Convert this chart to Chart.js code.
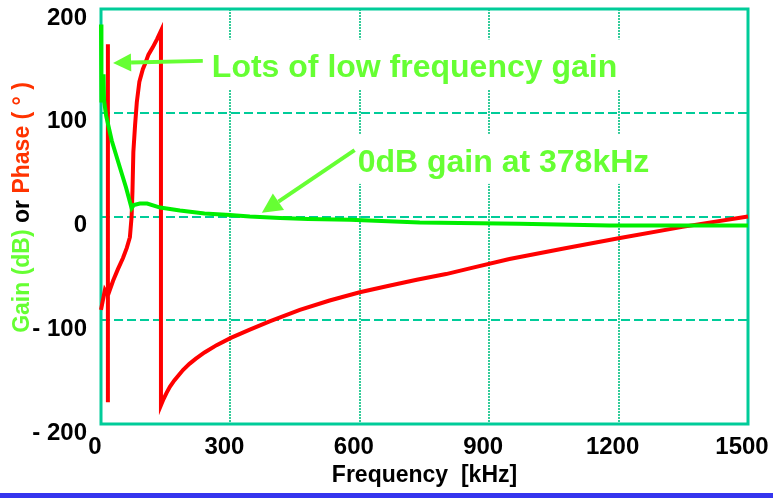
<!DOCTYPE html>
<html>
<head>
<meta charset="utf-8">
<script src="https://cdn.jsdelivr.net/npm/chart.js@4.4.1/dist/chart.umd.min.js"></script>
<style>
  body { margin: 0; background: #fff; }
  #wrap { position: relative; width: 773px; height: 493px; }
  #bar { width: 773px; height: 5px; background: #3535ee; }
</style>
</head>
<body>
<div id="wrap"><canvas id="stage"></canvas></div>
<div id="bar"></div>
<script>
// gain curve (kHz, dB)
var freqGain = [0, 0, 2, 6, 7, 12, 25, 44, 58, 71, 76, 90, 107, 137, 183, 240, 299, 345, 415, 480, 577, 739, 970, 1179, 1500];
var gainDb   = [185, 111, 110, 137, 112, 97, 73, 47, 28, 8, 11, 12.5, 12.5, 8.6, 5.8, 3, 1.5, 0, -1.5, -2.3, -3.2, -5.7, -7, -8.6, -8.6];

// phase curve (kHz, deg)
var freqPhase = [0, 9, 16, 16, 16, 16, 28, 39, 51, 60, 67, 71, 73, 75, 79, 83, 89, 97, 102, 110, 120, 130, 139,
                 139, 145, 152, 160, 170, 180, 190, 205, 220, 240, 268, 301, 345, 391, 461, 530, 600, 665, 732, 800, 855, 947, 1070, 1200, 1348, 1500];
var phaseDeg  = [-90, -71, -76, 166, -179, -76, -62, -51, -40, -30, -20, 0, 25, 62, 88, 110, 130, 142, 147, 156, 163, 171, 179,
                 -182, -176, -170, -164, -158, -153, -148, -142, -137, -131, -124, -117, -109, -101, -90, -81, -73, -67, -61, -55.5, -50, -41, -31, -21, -10, 0];

var xTicks = [0, 300, 600, 900, 1200, 1500];
var yTicks = [-200, -100, 0, 100, 200];

var TEAL = '#00cc99';
var LABEL_GREEN = '#66ff33';
var FONT = '"Liberation Sans", Arial, sans-serif';

function toPoints(xs, ys) {
  return xs.map(function (x, i) { return {x: x, y: ys[i]}; });
}

function drawArrow(ctx, x1, y1, x2, y2, headLen, headHalf) {
  var ang = Math.atan2(y2 - y1, x2 - x1);
  var bx = x2 - headLen * Math.cos(ang);
  var by = y2 - headLen * Math.sin(ang);
  ctx.beginPath();
  ctx.moveTo(x1, y1);
  ctx.lineTo(bx, by);
  ctx.stroke();
  ctx.beginPath();
  ctx.moveTo(x2, y2);
  ctx.lineTo(bx + headHalf * Math.sin(ang), by - headHalf * Math.cos(ang));
  ctx.lineTo(bx - headHalf * Math.sin(ang), by + headHalf * Math.cos(ang));
  ctx.closePath();
  ctx.fill();
}

// frame, text boxes, arrows and the coloured y title
var decorPlugin = {
  id: 'decor',
  beforeDatasetsDraw: function (chart) {
    var ctx = chart.ctx, a = chart.chartArea;
    var xs = chart.scales.x, ys = chart.scales.y;
    ctx.save();
    ctx.font = 'bold 32px ' + FONT;
    // white boxes behind the notes
    var notes = [[257, 134, 'Lots of low frequency gain'], [595, 43, '0dB gain at 378kHz']];
    ctx.fillStyle = '#fff';
    notes.forEach(function (n) {
      var px = xs.getPixelForValue(n[0]), py = ys.getPixelForValue(n[1]);
      var w = ctx.measureText(n[2]).width;
      ctx.fillRect(px - 6, py - 38, w + 12, 50);
    });
    ctx.strokeStyle = TEAL;
    ctx.lineWidth = 3;
    ctx.strokeRect(a.left, a.top, a.right - a.left, a.bottom - a.top);
    ctx.restore();
  },
  afterDatasetsDraw: function (chart) {
    var ctx = chart.ctx, a = chart.chartArea;
    var xs = chart.scales.x, ys = chart.scales.y;
    ctx.save();
    ctx.fillStyle = LABEL_GREEN;
    ctx.strokeStyle = LABEL_GREEN;
    ctx.lineWidth = 4;
    drawArrow(ctx, xs.getPixelForValue(236), ys.getPixelForValue(150),
              xs.getPixelForValue(28), ys.getPixelForValue(148), 18, 9);
    drawArrow(ctx, xs.getPixelForValue(588), ys.getPixelForValue(64),
              xs.getPixelForValue(373), ys.getPixelForValue(3.5), 20, 10);
    ctx.font = 'bold 32px ' + FONT;
    ctx.textBaseline = 'alphabetic';
    ctx.fillText('Lots of low frequency gain', xs.getPixelForValue(257), ys.getPixelForValue(134));
    ctx.fillText('0dB gain at 378kHz', xs.getPixelForValue(595), ys.getPixelForValue(43));

    // y axis title in three colours
    var parts = [['Gain (dB)', LABEL_GREEN], [' or ', '#000'], ['Phase ( \u00b0 )', '#ff3300']];
    ctx.font = 'bold 23px ' + FONT;
    var total = 0;
    parts.forEach(function (p) { total += ctx.measureText(p[0]).width; });
    ctx.translate(a.left - 78, (a.top + a.bottom) / 2 - 9);
    ctx.rotate(-Math.PI / 2);
    ctx.textBaseline = 'middle';
    var pos = -total / 2;
    parts.forEach(function (p) {
      ctx.fillStyle = p[1];
      ctx.fillText(p[0], pos, 0);
      pos += ctx.measureText(p[0]).width;
    });
    ctx.restore();
  }
};

var chart = new Chart(document.getElementById('stage'), {
  type: 'scatter',
  data: {
    datasets: [
      {
        label: 'Gain',
        data: toPoints(freqGain, gainDb),
        borderColor: '#00ee00',
        borderWidth: 4,
        showLine: true,
        pointRadius: 0,
        clip: 4
      },
      {
        label: 'Phase',
        data: toPoints(freqPhase, phaseDeg),
        borderColor: '#ff0000',
        borderWidth: 4,
        showLine: true,
        pointRadius: 0,
        clip: 4
      }
    ]
  },
  options: {
    responsive: true,
    maintainAspectRatio: false,
    animation: false,
    layout: { padding: { left: 0, right: 25, top: 9, bottom: 0 } },
    plugins: {
      legend: { display: false },
      tooltip: { enabled: false }
    },
    scales: {
      x: {
        type: 'linear',
        min: 0,
        max: 1500,
        afterFit: function (s) { s.height = 69; s.paddingLeft = 0; s.paddingRight = 0; },
        afterBuildTicks: function (s) { s.ticks = xTicks.map(function (v) { return {value: v}; }); },
        ticks: {
          color: '#000',
          font: { family: FONT, size: 24, weight: 'bold' },
          padding: 9,
          labelOffset: -6,
          maxRotation: 0,
          callback: function (v) { return String(v); }
        },
        grid: { color: '#33cc99', lineWidth: 2, drawTicks: false },
        border: { display: false, dash: [2, 1] },
        title: {
          display: true,
          text: 'Frequency  [kHz]',
          color: '#000',
          font: { family: FONT, size: 23, weight: 'bold' },
          padding: { top: 0, bottom: 4 }
        }
      },
      y: {
        type: 'linear',
        min: -200,
        max: 200,
        afterFit: function (s) { s.width = 101; s.paddingTop = 0; s.paddingBottom = 0; },
        afterBuildTicks: function (s) { s.ticks = yTicks.map(function (v) { return {value: v}; }); },
        ticks: {
          color: '#000',
          font: { family: FONT, size: 24, weight: 'bold' },
          padding: 14,
          labelOffset: 9,
          callback: function (v) { return v < 0 ? '- ' + Math.abs(v) : String(v); }
        },
        grid: { color: TEAL, lineWidth: 2, drawTicks: false },
        border: { display: false, dash: [9, 4] }
      }
    }
  },
  plugins: [decorPlugin]
});
</script>
</body>
</html>
